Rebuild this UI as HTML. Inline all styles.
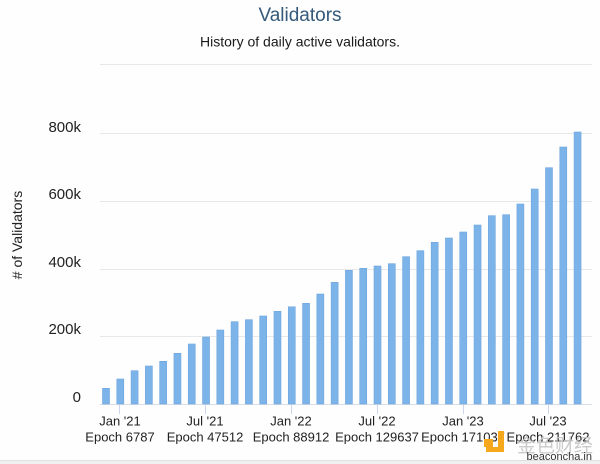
<!DOCTYPE html>
<html><head><meta charset="utf-8"><style>
html,body{margin:0;padding:0;background:#fefefe;}
svg{display:block;}
text{font-family:"Liberation Sans","Noto Sans CJK SC",sans-serif;}
</style></head><body>
<svg width="600" height="464" viewBox="0 0 600 464" xmlns="http://www.w3.org/2000/svg">
<rect width="600" height="464" fill="#fefefe"/>
<text x="300" y="21" text-anchor="middle" font-size="19" fill="#34597a">Validators</text>
<text x="300" y="46.5" text-anchor="middle" font-size="14" fill="#1a1a1a">History of daily active validators.</text>
<g stroke="#e8e8e8" stroke-width="1">
<line x1="100" y1="64.5" x2="592" y2="64.5"/>
<line x1="100" y1="133.5" x2="592" y2="133.5"/>
<line x1="100" y1="201.5" x2="592" y2="201.5"/>
<line x1="100" y1="269.5" x2="592" y2="269.5"/>
<line x1="100" y1="336.5" x2="592" y2="336.5"/>
</g>
<line x1="100" y1="404.5" x2="592" y2="404.5" stroke="#d8dde6" stroke-width="1"/>
<g font-size="15" fill="#222" text-anchor="end">
<text x="81" y="132">800k</text>
<text x="81" y="199">600k</text>
<text x="81" y="267">400k</text>
<text x="81" y="334">200k</text>
<text x="81" y="402">0</text>
</g>
<text transform="translate(22,235) rotate(-90)" text-anchor="middle" font-size="14" fill="#222"># of Validators</text>
<g fill="#7cb4ea" stroke="#6ea5dd" stroke-width="0.6" id="bars"></g>
<g stroke="#ccd6eb" stroke-width="1">
<line x1="119.5" y1="405" x2="119.5" y2="414"/>
<line x1="205.5" y1="405" x2="205.5" y2="414"/>
<line x1="291.5" y1="405" x2="291.5" y2="414"/>
<line x1="377.5" y1="405" x2="377.5" y2="414"/>
<line x1="463.5" y1="405" x2="463.5" y2="414"/>
<line x1="548.5" y1="405" x2="548.5" y2="414"/>
</g>
<g font-size="13" fill="#222" text-anchor="middle">
<text x="120" y="425.5">Jan '21</text><text x="120" y="441.5">Epoch 6787</text>
<text x="205" y="425.5">Jul '21</text><text x="205" y="441.5">Epoch 47512</text>
<text x="291" y="425.5">Jan '22</text><text x="291" y="441.5">Epoch 88912</text>
<text x="377" y="425.5">Jul '22</text><text x="377" y="441.5">Epoch 129637</text>
<text x="463" y="425.5">Jan '23</text><text x="463" y="441.5">Epoch 171037</text>
<text x="548" y="425.5">Jul '23</text><text x="548" y="441.5">Epoch 211762</text>
</g>
<g>
<rect x="484" y="439" width="9" height="8" fill="#f5a81c"/>
<rect x="498" y="431" width="6" height="21" fill="#f5a81c"/>
<rect x="486" y="447" width="18" height="5" fill="#f5a81c"/>
<text x="517" y="452" font-size="19" fill="#c4c4c4" fill-opacity="0.9" font-family="'Noto Sans CJK SC',sans-serif">金色财经</text>
<text x="592" y="460" text-anchor="end" font-size="11" fill="#333">beaconcha.in</text>
</g>
<rect x="0" y="460" width="600" height="4" fill="#f0f0f0"/>
<line x1="0" y1="460.5" x2="600" y2="460.5" stroke="#e0e0e0"/>
</svg>
<script>
var h=[15.7,25,33.3,38,42.7,50.7,60,67,74,82.3,84.3,88,92.7,97.2,100.7,110,121.7,133.7,135.7,138,140.3,147.3,153.3,161.7,166,172,179,188.3,189.3,200,215,236.3,257,272];
var g=document.getElementById('bars'),ns='http://www.w3.org/2000/svg';
for(var i=0;i<h.length;i++){var r=document.createElementNS(ns,'rect');var cx=106+i*14.29;
r.setAttribute('x',(cx-3.5).toFixed(2));r.setAttribute('y',(404-h[i]).toFixed(2));r.setAttribute('width','7');r.setAttribute('height',h[i]);g.appendChild(r);}
</script>
</body></html>
